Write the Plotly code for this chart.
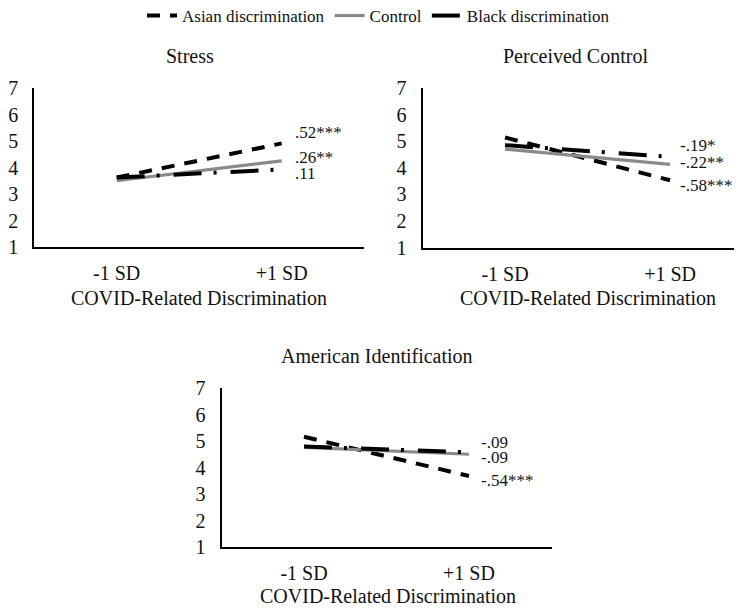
import plotly.graph_objects as go

W, H = 742, 609

# ---------------- data ----------------
x_labels = ["-1 SD", "+1 SD"]
series_names = ["Asian discrimination", "Control", "Black discrimination"]
panel_titles = ["Stress", "Perceived Control", "American Identification"]
x_title = "COVID-Related Discrimination"
y_ticks = [1, 2, 3, 4, 5, 6, 7]

stress_asian = [3.62, 4.91]
stress_control = [3.50, 4.25]
stress_black = [3.62, 3.93]

pc_asian = [5.14, 3.53]
pc_control = [4.70, 4.13]
pc_black = [4.85, 4.41]

ai_asian = [5.16, 3.68]
ai_control = [4.76, 4.50]
ai_black = [4.79, 4.57]

stress_slopes = [".52***", ".26**", ".11"]
pc_slopes = ["-.19*", "-.22**", "-.58***"]
ai_slopes = ["-.09", "-.09", "-.54***"]

# ---------------- styling ----------------
FONT = "Liberation Serif"
TXT = "#111111"
styles = {
    "Asian discrimination": dict(color="#000000", width=4, dash="13px,10px"),
    "Control": dict(color="#8a8a8a", width=3.2, dash="solid"),
    "Black discrimination": dict(color="#000000", width=4, dash="28px,12px,3px,14px"),
}

# the page body adds an 8px offset; positions below are window pixels
OX, OY = 8, 8


def px_x(x):
    return (x - OX) / W


def px_y(y):
    return 1 - (y - OY) / H


# panel pixel boxes (window px): x0, x1, ytop(v=7), ybottom(v=1), xrange_max
panels = [
    dict(x0=34.2, x1=364.2, yt=88, yb=247, xmax=1.5),
    dict(x0=422.5, x1=742, yt=88, yb=247.5, xmax=1.436),
    dict(x0=221.5, x1=551.5, yt=388, yb=547, xmax=1.5),
]
panel_data = [
    [stress_asian, stress_control, stress_black],
    [pc_asian, pc_control, pc_black],
    [ai_asian, ai_control, ai_black],
]

fig = go.Figure()
layout_axes = {}
for i, (p, data) in enumerate(zip(panels, panel_data)):
    suf = "" if i == 0 else str(i + 1)
    for name, vals in zip(series_names, data):
        fig.add_trace(go.Scatter(
            x=x_labels, y=vals, mode="lines", name=name,
            line=styles[name], legendgroup=name, showlegend=(i == 0),
            xaxis="x" + suf, yaxis="y" + suf, hoverinfo="skip",
        ))
    layout_axes["xaxis" + suf] = dict(
        domain=[max(0, px_x(p["x0"])), min(1, px_x(p["x1"]))],
        anchor="y" + suf, type="category", range=[-0.5, p["xmax"]],
        showline=True, linecolor="#000000", linewidth=2,
        showgrid=False, zeroline=False, ticks="",
        ticklabelstandoff=7,
        tickfont=dict(family=FONT, size=20, color=TXT),
        fixedrange=True,
    )
    layout_axes["yaxis" + suf] = dict(
        domain=[px_y(p["yb"]), px_y(p["yt"])],
        anchor="x" + suf, range=[1, 7], tickvals=y_ticks,
        showline=True, linecolor="#000000", linewidth=2,
        showgrid=False, zeroline=False, ticks="",
        ticklabelstandoff=10,
        tickfont=dict(family=FONT, size=20, color=TXT),
        fixedrange=True,
    )

fig.update_layout(**layout_axes)

annotations = []
# panel titles
title_pos = [(190, 56), (575, 56), (377, 356)]
for t, (x, y) in zip(panel_titles, title_pos):
    annotations.append(dict(text=t, x=px_x(x), y=px_y(y), xref="paper", yref="paper",
                            xanchor="center", yanchor="middle", showarrow=False,
                            font=dict(family=FONT, size=20, color=TXT)))
# axis titles
xt_pos = [(199, 298), (588, 298), (388, 596)]
for (x, y) in xt_pos:
    annotations.append(dict(text=x_title, x=px_x(x), y=px_y(y), xref="paper", yref="paper",
                            xanchor="center", yanchor="middle", showarrow=False,
                            font=dict(family=FONT, size=20, color=TXT)))
# slope labels
slope_sets = [
    (stress_slopes, 293, [133, 157, 173]),
    (pc_slopes, 678, [146, 162, 185]),
    (ai_slopes, 479, [442, 457, 480]),
]
for labels, x, ys in slope_sets:
    for lab, y in zip(labels, ys):
        annotations.append(dict(text=lab, x=px_x(x), y=px_y(y), xref="paper", yref="paper",
                                xanchor="left", yanchor="middle", showarrow=False,
                                font=dict(family=FONT, size=17, color=TXT)))

fig.update_layout(
    width=W, height=H,
    margin=dict(l=0, r=0, t=0, b=0, autoexpand=False),
    paper_bgcolor="white", plot_bgcolor="white",
    font=dict(family=FONT, color=TXT),
    annotations=annotations,
    legend=dict(orientation="h", x=px_x(378.5), xanchor="center",
                y=px_y(16), yanchor="middle",
                font=dict(family=FONT, size=17, color=TXT),
                bgcolor="rgba(0,0,0,0)", itemwidth=30, tracegroupgap=0),
    showlegend=True,
)

fig.write_html("out.html")
